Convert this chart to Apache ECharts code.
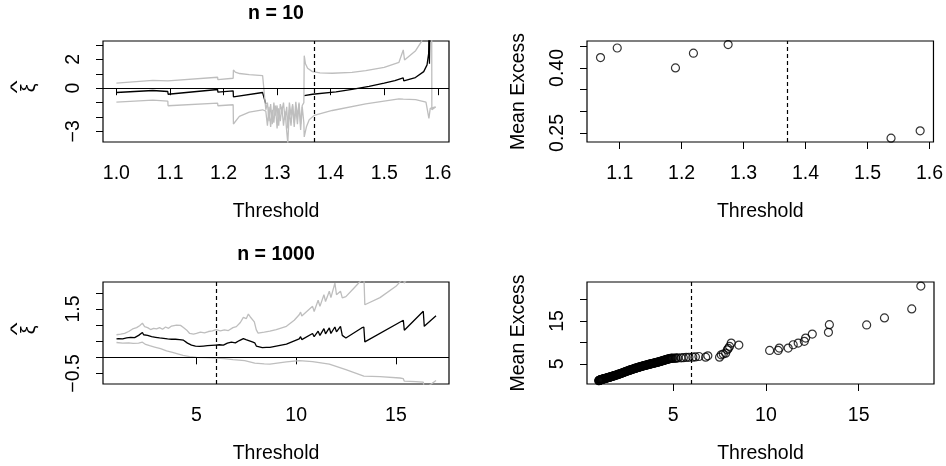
<!DOCTYPE html>
<html><head><meta charset="utf-8">
<script src="https://cdn.jsdelivr.net/npm/echarts@6/dist/echarts.min.js"></script>
<style>html,body{margin:0;padding:0;background:#fff}#c{width:946px;height:466px}</style>
</head><body><div id="c"></div>
<script>
// ---------- Panel 1 : xi estimates, n = 10 ----------
const TITLE_TOP = 'n = 10';
const TITLE_BOTTOM = 'n = 1000';
const XI_SYMBOL = '\u03BE';
const HAT_SYMBOL = '^';
const THRESH_10 = 1.37;
const THRESH_1000 = 6;

const XI10_BLACK_A_X = [1.000,1.068,1.0685,1.096,1.0965,1.189,1.1895,1.218,1.2185,1.273,1.279];
const XI10_BLACK_A_Y = [-0.30,-0.16,-0.28,-0.23,-0.42,-0.09,-0.28,-0.18,-0.60,-0.30,-1.10];
const XI10_BLACK_B_X = [1.3507,1.3662,1.41,1.44,1.4717,1.50,1.52,1.5355,1.5366,1.5583,1.5738,1.58,1.583,1.5838,1.5845,1.5855];
const XI10_BLACK_B_Y = [-0.51,-0.42,-0.25,-0.08,0.12,0.35,0.52,0.72,0.51,0.74,1.15,1.62,2.4,4.5,1.7,5.0];

const XI10_UPPER_X = [1.000,1.068,1.0685,1.096,1.0965,1.189,1.1895,1.218,1.2185,1.222,1.230,1.248,1.273,
  1.279,1.282,1.285,1.288,1.291,1.294,1.297,1.300,1.303,1.306,1.309,1.312,1.315,1.318,1.320,1.323,1.326,1.329,1.332,1.335,1.338,1.341,1.344,1.347,1.350,
  1.3507,1.353,1.357,1.366,1.380,1.403,1.440,1.4655,1.500,1.5276,1.5356,1.538,1.5587,1.5698,1.578,1.5885,1.589,1.596];
const XI10_UPPER_Y = [0.35,0.55,0.46,0.51,0.42,0.76,0.60,0.69,1.27,1.12,1.02,0.94,0.88,
  -1.5,-1.0,-2.3,-1.1,-2.5,-1.0,-1.9,-1.2,-2.6,-1.1,-1.6,-1.0,-2.2,-1.3,-2.8,-1.0,-1.9,-1.1,-2.4,-0.95,-2.0,-1.0,-2.5,-1.2,-1.0,
  2.26,1.70,1.39,1.15,1.07,1.04,1.10,1.22,1.45,1.80,2.66,1.96,2.61,3.26,4.5,8.0,-1.5,-1.3];
const XI10_LOWER_X = [1.000,1.068,1.0685,1.096,1.0965,1.189,1.1895,1.218,1.2185,1.2296,1.2482,1.273,
  1.279,1.282,1.285,1.288,1.291,1.294,1.297,1.300,1.303,1.306,1.309,1.312,1.315,1.318,1.320,1.323,1.326,1.329,1.332,1.335,1.338,1.341,1.344,1.347,1.350,
  1.3507,1.355,1.360,1.3693,1.403,1.4655,1.5276,1.5356,1.537,1.5587,1.578,1.5835,1.586,1.589,1.596];
const XI10_LOWER_Y = [-0.97,-0.83,-0.95,-0.90,-1.22,-1.04,-1.22,-1.15,-2.49,-1.96,-1.66,-1.50,
  -1.6,-2.6,-1.3,-2.7,-1.5,-2.4,-1.2,-2.8,-1.4,-2.3,-1.3,-2.6,-1.6,-3.0,-3.8,-1.5,-2.6,-1.2,-2.7,-1.4,-2.5,-1.1,-2.9,-1.3,-2.4,
  -3.39,-2.66,-2.20,-1.89,-1.55,-1.09,-0.74,-0.76,-0.85,-0.79,-0.97,-2.10,-1.40,-1.45,-1.30];

// ---------- Panel 2 : mean excess, n = 10 ----------
const ME10_X = [1.069,1.096,1.190,1.219,1.275,1.538,1.585];
const ME10_Y = [0.424,0.446,0.400,0.434,0.454,0.238,0.255];

// ---------- Panel 3 : xi estimates, n = 1000 ----------
const XI1000_BLACK_X = [0.99,1.1,1.2,1.3,1.4,1.5,1.6,1.7,1.8,1.9,2.0,2.1,2.2,2.29,2.35,2.45,2.55,2.65,2.75,2.85,2.95,3.05,3.15,3.25,3.35,3.45,3.55,3.65,3.75,3.85,3.95,4.05,4.15,4.25,4.35,4.45,4.55,4.65,4.75,4.85,4.95,5.05,5.15,5.25,5.35,5.45,5.55,5.65,5.75,5.85,5.95,6.05,6.15,6.25,6.35,6.45,6.55,6.65,6.75,6.85,6.95,7.05,7.15,7.25,7.35,7.42,7.48,7.55,7.62,7.70,7.80,7.88,7.92,8.0,8.09,8.3,8.5,8.68,
  9.51,10.15,10.22,10.28,10.82,10.90,11.10,11.19,11.39,11.47,11.66,11.74,11.94,12.02,12.22,12.31,12.49,13.28,13.39,13.44,15.37,15.42,16.37,16.42,17.01];
const XI1000_BLACK_Y = [0.57,0.58,0.55,0.57,0.56,0.60,0.58,0.62,0.64,0.61,0.66,0.68,0.72,0.77,0.70,0.66,0.68,0.62,0.64,0.60,0.62,0.58,0.60,0.56,0.59,0.55,0.57,0.54,0.56,0.53,0.56,0.52,0.55,0.51,0.53,0.48,0.44,0.40,0.38,0.36,0.35,0.37,0.34,0.36,0.35,0.38,0.36,0.39,0.37,0.40,0.38,0.42,0.39,0.41,0.38,0.42,0.44,0.41,0.47,0.50,0.45,0.47,0.52,0.49,0.58,0.63,0.55,0.60,0.52,0.56,0.48,0.53,0.45,0.35,0.29,0.30,0.31,0.31,
  0.41,0.57,0.64,0.55,0.74,0.64,0.81,0.68,0.89,0.73,0.91,0.74,0.94,0.79,0.96,0.68,0.60,0.91,0.94,0.48,1.15,0.84,1.43,0.96,1.29];
const XI1000_UPPER_X = [0.99,1.2,1.4,1.6,1.8,2.0,2.15,2.29,2.4,2.55,2.7,2.85,3.0,3.15,3.3,3.45,3.6,3.75,3.85,4.0,4.1,4.2,4.33,4.5,4.66,4.85,5.0,5.2,5.4,5.6,5.8,5.98,6.2,6.4,6.6,6.83,7.0,7.2,7.35,7.42,7.5,7.6,7.7,7.78,7.9,8.0,8.09,8.4,8.68,9.0,9.51,9.9,10.15,10.22,10.28,10.82,10.9,11.1,11.19,11.39,11.47,11.66,11.74,11.94,12.02,12.22,12.31,12.49,12.9,13.28,13.39,13.44,14.2,15.0,15.37,15.42,16.0,17.0];
const XI1000_UPPER_Y = [0.70,0.72,0.74,0.80,0.88,0.92,0.98,1.06,0.95,0.92,0.86,0.90,0.88,0.92,0.87,0.94,0.90,0.97,0.93,1.00,0.95,0.99,0.93,0.85,0.74,0.72,0.74,0.78,0.76,0.80,0.82,0.86,0.82,0.85,0.83,0.92,0.95,1.08,1.24,1.30,1.20,1.34,1.25,1.30,1.10,0.85,0.75,0.78,0.81,0.86,0.96,1.15,1.32,1.40,1.28,1.58,1.42,1.77,1.58,1.94,1.73,2.05,1.85,2.30,1.94,2.05,1.84,1.88,2.15,2.40,2.60,1.63,1.85,2.20,2.45,2.30,2.80,3.50];
const XI1000_LOWER_X = [0.99,1.3,1.6,1.82,2.1,2.29,2.45,2.65,2.9,3.2,3.5,3.8,4.1,4.33,4.66,5.0,5.5,5.98,6.4,6.83,7.42,7.92,8.4,8.68,9.51,10.15,10.82,11.66,12.49,13.39,13.44,14.2,15.2,15.37,15.42,16.0,16.37,16.42,16.6,17.01];
const XI1000_LOWER_Y = [0.46,0.44,0.45,0.43,0.44,0.47,0.40,0.36,0.32,0.27,0.20,0.15,0.10,0.06,0.02,0.0,-0.01,-0.02,-0.04,-0.07,-0.10,-0.18,-0.20,-0.21,-0.14,-0.10,-0.13,-0.21,-0.38,-0.58,-0.61,-0.60,-0.64,-0.66,-0.74,-0.75,-0.77,-0.95,-0.90,-0.72];

// ---------- Panel 4 : mean excess, n = 1000 ----------
const ME1000_X = [0.99,1.00,1.01,1.02,1.03,1.045,1.06,1.075,1.09,1.105,1.12,1.14,1.16,1.18,1.20,1.22,1.245,1.27,1.295,1.32,1.345,1.37,1.40,1.43,1.46,1.49,1.52,1.55,1.58,1.61,1.64,1.67,1.70,1.73,1.76,1.79,1.82,1.855,1.89,1.925,1.96,1.995,2.03,2.065,2.10,2.135,2.17,2.205,2.24,2.275,2.31,2.345,2.38,2.415,2.45,2.485,2.52,2.555,2.59,2.625,2.66,2.695,2.73,2.765,2.80,2.835,2.87,2.905,2.94,2.975,3.01,3.045,3.08,3.115,3.15,3.185,3.22,3.255,3.29,3.325,3.36,3.395,3.43,3.465,3.50,3.535,3.57,3.605,3.64,3.675,3.71,3.745,3.78,3.815,3.85,3.885,3.92,3.955,3.99,4.025,4.06,4.095,4.13,4.165,4.20,4.235,4.27,4.305,4.34,4.375,4.41,4.445,4.48,4.515,4.55,4.585,4.62,4.655,4.69,4.725,4.76,4.795,4.83,4.865,4.90,4.935,4.97,
  5.04,5.12,5.16,5.25,5.43,5.55,5.70,5.85,6.06,6.20,6.39,6.75,6.87,7.50,7.59,7.70,7.83,7.92,7.97,8.04,8.13,8.54,10.20,10.66,10.72,11.20,11.47,11.74,12.07,12.14,12.50,13.37,13.42,15.43,16.39,17.86,18.35];
const ME1000_Y = [1.07,1.10,1.13,1.16,1.17,1.20,1.23,1.26,1.28,1.30,1.33,1.36,1.38,1.41,1.43,1.46,1.49,1.52,1.55,1.59,1.62,1.65,1.68,1.72,1.76,1.80,1.84,1.87,1.91,1.95,1.99,2.03,2.07,2.11,2.15,2.19,2.24,2.28,2.33,2.38,2.43,2.49,2.54,2.59,2.64,2.70,2.75,2.81,2.86,2.92,2.98,3.03,3.09,3.14,3.20,3.26,3.31,3.37,3.42,3.48,3.53,3.58,3.64,3.69,3.74,3.79,3.84,3.89,3.94,3.99,4.04,4.08,4.13,4.18,4.22,4.27,4.32,4.36,4.41,4.45,4.50,4.54,4.58,4.62,4.66,4.70,4.74,4.78,4.82,4.86,4.90,4.94,4.98,5.02,5.06,5.09,5.13,5.17,5.20,5.24,5.28,5.32,5.36,5.40,5.44,5.48,5.53,5.57,5.61,5.66,5.70,5.75,5.79,5.84,5.89,5.94,5.98,6.03,6.08,6.12,6.16,6.19,6.23,6.26,6.28,6.30,6.32,
  6.30,6.35,6.33,6.38,6.40,6.45,6.49,6.52,6.56,6.62,6.72,6.56,6.87,6.56,7.10,7.30,7.50,8.28,8.60,9.06,9.84,9.37,8.12,8.12,8.67,8.67,9.45,9.84,10.24,11.00,11.95,12.35,14.14,14.06,15.70,17.80,23.13];

// ---------- chart ----------
const FONT = '"Liberation Sans", Arial, Helvetica, sans-serif';
const FS = 19.5;
const GREY = '#BEBEBE';
const zip = (xs, ys) => xs.map((x, i) => [x, ys[i]]);
const minus = v => String(v).replace('-', '\u2212');

function xAxisOf(gi, min, max, ticks, fmt) {
  return {
    type: 'value', gridIndex: gi, min, max,
    axisLine: { show: false }, splitLine: { show: false },
    axisTick: { show: true, length: 7, lineStyle: { color: '#000', width: 1 }, customValues: ticks },
    axisLabel: { customValues: ticks, formatter: fmt, margin: 22, color: '#000', fontFamily: FONT, fontSize: FS },
    name: 'Threshold', nameLocation: 'middle', nameGap: 60,
    nameTextStyle: { color: '#000', fontFamily: FONT, fontSize: FS }
  };
}
function yAxisOf(gi, min, max, ticks, labels, fmt, name) {
  return {
    type: 'value', gridIndex: gi, min, max,
    axisLine: { show: false }, splitLine: { show: false },
    axisTick: { show: true, length: 7, lineStyle: { color: '#000', width: 1 }, customValues: ticks },
    axisLabel: { customValues: labels, formatter: fmt, rotate: 90, margin: 19, color: '#000', fontFamily: FONT, fontSize: FS },
    name, nameLocation: 'middle', nameGap: 58,
    nameTextStyle: { color: '#000', fontFamily: FONT, fontSize: FS }
  };
}
function lineS(gi, data, color, z) {
  return { type: 'line', xAxisIndex: gi, yAxisIndex: gi, data, showSymbol: false, symbol: 'none',
    lineStyle: { color, width: 1.3 }, z, animation: false, silent: true };
}
function marks(vx, zeroLine) {
  const d = [{ xAxis: vx, lineStyle: { type: [4, 3], color: '#000', width: 1.2 } }];
  if (zeroLine) d.push({ yAxis: 0, lineStyle: { type: 'solid', color: '#000', width: 1.2 } });
  return { silent: true, symbol: ['none', 'none'], label: { show: false }, animation: false, data: d };
}
const circleStyle = { color: 'rgba(0,0,0,0)', borderColor: '#000', borderWidth: 1.2 };

const grids = [
  { left: 103, top: 41, width: 346, height: 101 },
  { left: 587, top: 41, width: 347, height: 101 },
  { left: 103, top: 282, width: 346, height: 102 },
  { left: 587, top: 282, width: 347, height: 102 }
].map(g => Object.assign({ show: true, borderColor: '#000', borderWidth: 1.2, backgroundColor: 'transparent', containLabel: false }, g));

const s1black = lineS(0, zip(XI10_BLACK_A_X, XI10_BLACK_A_Y), '#000', 3);
s1black.markLine = marks(THRESH_10, true);
const s3black = lineS(2, zip(XI1000_BLACK_X, XI1000_BLACK_Y), '#000', 3);
s3black.markLine = marks(THRESH_1000, true);

function titleText(text, x, y) {
  return { type: 'text', x, y, style: { text, font: 'bold ' + FS + 'px ' + FONT, fill: '#000', textAlign: 'center', textVerticalAlign: 'middle' } };
}
function xiLabel(cy) {
  return [
    { type: 'text', x: 30, y: cy, rotation: Math.PI / 2,
      style: { text: XI_SYMBOL, font: FS + 'px ' + FONT, fill: '#000', textAlign: 'center', textVerticalAlign: 'middle' } },
    { type: 'text', x: 17.5, y: cy - 1, rotation: Math.PI / 2, scaleY: 0.65,
      style: { text: HAT_SYMBOL, font: '28px ' + FONT, fill: '#000', textAlign: 'center', textVerticalAlign: 'middle' } }
  ];
}

const option = {
  animation: false,
  backgroundColor: '#fff',
  grid: grids,
  graphic: [titleText(TITLE_TOP, 276, 14), titleText(TITLE_BOTTOM, 276, 255)].concat(xiLabel(88), xiLabel(330)),
  xAxis: [
    xAxisOf(0, 0.975, 1.621, [1.0,1.1,1.2,1.3,1.4,1.5,1.6], v => v.toFixed(1)),
    xAxisOf(1, 1.0472, 1.6065, [1.1,1.2,1.3,1.4,1.5,1.6], v => v.toFixed(1)),
    xAxisOf(2, 0.314, 17.66, [5,10,15], v => String(v)),
    xAxisOf(3, 0.356, 19.06, [5,10,15], v => String(v))
  ],
  yAxis: [
    yAxisOf(0, -3.74, 3.28, [-3,-2,-1,0,1,2,3], [-3,0,2], v => minus(v), ''),
    yAxisOf(1, 0.2292, 0.4622, [0.25,0.30,0.35,0.40,0.45], [0.25,0.40], v => v.toFixed(2), 'Mean Excess'),
    yAxisOf(2, -0.826, 2.334, [-0.5,0,0.5,1,1.5,2], [-0.5,1.5], v => minus(v.toFixed(1)), ''),
    yAxisOf(3, 0.31, 24.07, [5,10,15,20], [5,15], v => String(v), 'Mean Excess')
  ],
  series: [
    s1black,
    lineS(0, zip(XI10_BLACK_B_X, XI10_BLACK_B_Y), '#000', 3),
    lineS(0, zip(XI10_UPPER_X, XI10_UPPER_Y), GREY, 4),
    lineS(0, zip(XI10_LOWER_X, XI10_LOWER_Y), GREY, 4),
    { type: 'scatter', xAxisIndex: 1, yAxisIndex: 1, data: zip(ME10_X, ME10_Y), symbol: 'circle', symbolSize: 8,
      itemStyle: circleStyle, silent: true, markLine: marks(THRESH_10, false) },
    s3black,
    lineS(2, zip(XI1000_UPPER_X, XI1000_UPPER_Y), GREY, 2),
    lineS(2, zip(XI1000_LOWER_X, XI1000_LOWER_Y), GREY, 2),
    { type: 'scatter', xAxisIndex: 3, yAxisIndex: 3, data: zip(ME1000_X, ME1000_Y), symbol: 'circle', symbolSize: 8,
      itemStyle: circleStyle, silent: true, markLine: marks(THRESH_1000, false) }
  ]
};
const chart = echarts.init(document.getElementById('c'), null, { renderer: 'canvas' });
chart.setOption(option);
</script></body></html>
